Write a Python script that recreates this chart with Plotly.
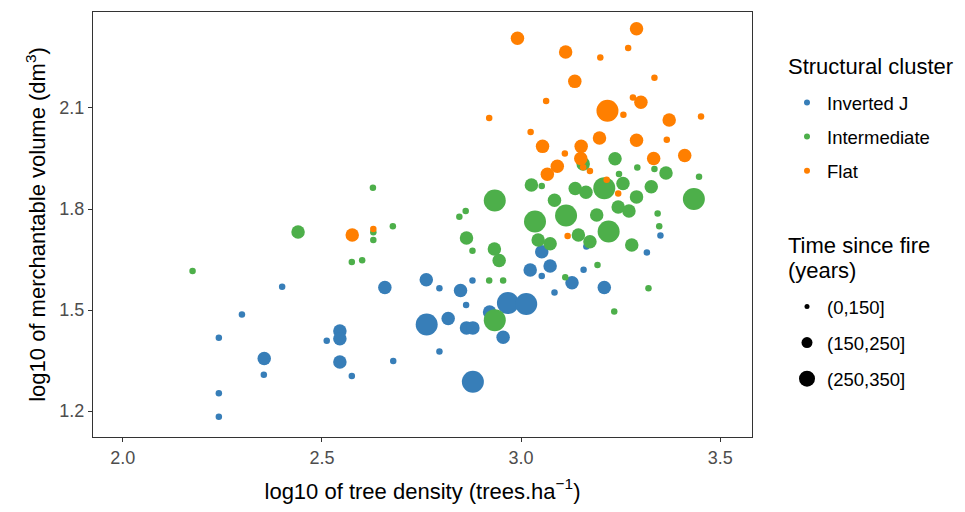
import plotly.graph_objects as go

# ---- data ----
invj_x = [2.400, 2.299, 2.241, 2.355, 2.354, 2.241, 2.241, 2.512, 2.545, 2.545,
          2.545, 2.575, 2.658, 2.679, 2.762, 2.763, 2.795, 2.795, 2.848, 2.878,
          2.862, 2.817, 2.863, 2.879, 2.921, 2.955, 2.879, 2.967, 3.013, 3.023,
          3.052, 3.073, 3.052, 3.084, 3.164, 3.350, 3.316, 3.157, 3.128, 3.209]
invj_y = [1.569, 1.487, 1.418, 1.356, 1.308, 1.253, 1.183, 1.409, 1.438, 1.415,
          1.346, 1.304, 1.567, 1.349, 1.590, 1.457, 1.565, 1.377, 1.558, 1.588,
          1.515, 1.475, 1.447, 1.447, 1.494, 1.419, 1.287, 1.521, 1.518, 1.619,
          1.673, 1.631, 1.601, 1.552, 1.689, 1.721, 1.671, 1.620, 1.581, 1.567]
invj_t = ["(0,150]", "(0,150]", "(0,150]", "(150,250]", "(0,150]", "(0,150]", "(0,150]", "(0,150]", "(150,250]", "(150,250]",
          "(150,250]", "(0,150]", "(150,250]", "(0,150]", "(150,250]", "(250,350]", "(0,150]", "(0,150]", "(150,250]", "(0,150]",
          "(0,150]", "(150,250]", "(150,250]", "(150,250]", "(150,250]", "(150,250]", "(250,350]", "(250,350]", "(250,350]", "(150,250]",
          "(150,250]", "(150,250]", "(0,150]", "(0,150]", "(0,150]", "(0,150]", "(0,150]", "(0,150]", "(150,250]", "(150,250]"]

inter_x = [2.175, 2.440, 2.628, 2.629, 2.629, 2.678, 2.575, 2.601, 2.863, 2.878,
           2.933, 2.945, 2.920, 2.955, 2.934, 2.934, 2.845, 2.861, 3.026, 3.052,
           3.084, 3.035, 3.113, 3.043, 3.073, 3.111, 3.156, 3.136, 3.163, 3.209,
           3.256, 3.236, 3.246, 3.292, 3.335, 3.364, 3.447, 3.327, 3.290, 3.434,
           3.343, 3.347, 3.190, 3.244, 3.271, 3.220, 3.278, 3.173, 3.144, 3.192,
           3.320, 3.234]
inter_y = [1.616, 1.732, 1.863, 1.731, 1.708, 1.749, 1.643, 1.648, 1.714, 1.676,
           1.681, 1.647, 1.588, 1.588, 1.470, 1.825, 1.777, 1.794, 1.871, 1.868,
           1.826, 1.763, 1.781, 1.708, 1.697, 1.597, 1.934, 1.861, 1.850, 1.862,
           1.876, 1.949, 1.904, 1.923, 1.919, 1.907, 1.896, 1.866, 1.836, 1.830,
           1.787, 1.749, 1.782, 1.806, 1.794, 1.733, 1.693, 1.703, 1.723, 1.634,
           1.565, 1.496]
inter_t = ["(0,150]", "(150,250]", "(0,150]", "(0,150]", "(0,150]", "(0,150]", "(0,150]", "(0,150]", "(150,250]", "(0,150]",
           "(150,250]", "(150,250]", "(0,150]", "(0,150]", "(250,350]", "(250,350]", "(0,150]", "(0,150]", "(150,250]", "(0,150]",
           "(150,250]", "(250,350]", "(250,350]", "(150,250]", "(150,250]", "(0,150]", "(150,250]", "(150,250]", "(150,250]", "(250,350]",
           "(150,250]", "(150,250]", "(0,150]", "(0,150]", "(0,150]", "(150,250]", "(0,150]", "(150,250]", "(150,250]", "(250,350]",
           "(0,150]", "(0,150]", "(150,250]", "(150,250]", "(150,250]", "(250,350]", "(150,250]", "(150,250]", "(150,250]", "(0,150]",
           "(0,150]", "(0,150]"]

flat_x = [2.576, 2.629, 2.991, 2.920, 3.024, 3.112, 3.199, 3.269, 3.290, 3.135,
          3.335, 3.063, 3.217, 3.281, 3.301, 3.257, 3.372, 3.452, 3.197, 3.290,
          3.366, 3.054, 3.151, 3.110, 3.150, 3.333, 3.411, 3.156, 3.173, 3.091,
          3.066, 3.215, 3.244, 3.117]
flat_y = [1.723, 1.741, 2.307, 2.070, 2.029, 2.266, 2.250, 2.278, 2.335, 2.179,
          2.190, 2.121, 2.092, 2.131, 2.117, 2.080, 2.064, 2.075, 2.011, 2.004,
          2.006, 1.986, 1.986, 1.965, 1.950, 1.950, 1.959, 1.924, 1.913, 1.927,
          1.903, 1.887, 1.846, 1.720]
flat_t = ["(150,250]", "(0,150]", "(150,250]", "(0,150]", "(0,150]", "(150,250]", "(0,150]", "(0,150]", "(150,250]", "(150,250]",
          "(0,150]", "(0,150]", "(250,350]", "(0,150]", "(150,250]", "(0,150]", "(150,250]", "(0,150]", "(150,250]", "(150,250]",
          "(0,150]", "(150,250]", "(150,250]", "(0,150]", "(150,250]", "(150,250]", "(150,250]", "(0,150]", "(0,150]", "(150,250]",
          "(150,250]", "(0,150]", "(0,150]", "(0,150]"]

clusters = ["Inverted J", "Intermediate", "Flat"]
tsf_classes = ["(0,150]", "(150,250]", "(250,350]"]
x_ticks = [2.0, 2.5, 3.0, 3.5]
y_ticks = [1.2, 1.5, 1.8, 2.1]

# ---- styles ----
colors = {"Inverted J": "#377EB8", "Intermediate": "#4DAF4A", "Flat": "#FF7F00"}
sizes = {"(0,150]": 6.5, "(150,250]": 13.5, "(250,350]": 22}
legend_sizes = {"(0,150]": 5, "(150,250]": 11, "(250,350]": 16}

series = {
    "Inverted J": (invj_x, invj_y, invj_t),
    "Intermediate": (inter_x, inter_y, inter_t),
    "Flat": (flat_x, flat_y, flat_t),
}

fig = go.Figure()
for c in clusters:
    xs, ys, ts = series[c]
    fig.add_trace(go.Scatter(
        x=xs, y=ys, mode="markers", showlegend=False,
        marker=dict(color=colors[c], size=[sizes[t] for t in ts], line=dict(width=0), opacity=1),
        name=c, hoverinfo="x+y+name"))

# legend entries (colour)
for i, c in enumerate(clusters):
    fig.add_trace(go.Scatter(
        x=[None], y=[None], mode="markers", name=c, legend="legend",
        legendgroup="c%d" % i,
        marker=dict(color=colors[c], size=6, line=dict(width=0))))
# legend entries (size)
for i, t in enumerate(tsf_classes):
    fig.add_trace(go.Scatter(
        x=[None], y=[None], mode="markers", name=t, legend="legend2",
        legendgroup="s%d" % i,
        marker=dict(color="black", size=legend_sizes[t], line=dict(width=0))))

font_fam = "Liberation Sans, Arial, sans-serif"
title_size = 22
tick_size = 18
leg_size = 18.5

axis_common = dict(
    showgrid=False, zeroline=False, showline=True, mirror=True,
    linecolor="#333333", linewidth=1.2,
    ticks="outside", ticklen=4, tickcolor="#333333", tickwidth=1,
    tickfont=dict(family=font_fam, size=tick_size, color="#4D4D4D"),
)

def px_to_paper_x(px):
    return (px - 93) / 659.0

def px_to_paper_y(py):
    return (437 - py) / 425.0

fig.update_layout(
    width=965, height=512,
    margin=dict(l=93, r=213, t=12, b=75),
    paper_bgcolor="white", plot_bgcolor="white",
    font=dict(family=font_fam, color="black"),
    xaxis=dict(range=[1.925, 3.58], tickvals=x_ticks, ticktext=["%.1f" % v for v in x_ticks],
               title=dict(text="log10 of tree density (trees.ha<sup>\u22121</sup>)",
                          font=dict(family=font_fam, size=title_size), standoff=16),
               **axis_common),
    yaxis=dict(range=[1.123, 2.385], tickvals=y_ticks, ticktext=["%.1f" % v for v in y_ticks],
               title=dict(text="log10 of merchantable volume (dm<sup>3</sup>)",
                          font=dict(family=font_fam, size=title_size), standoff=7),
               **axis_common),
    legend=dict(
        x=px_to_paper_x(787), y=px_to_paper_y(84), xanchor="left", yanchor="top",
        font=dict(family=font_fam, size=leg_size),
        itemsizing="trace", tracegroupgap=7, bgcolor="rgba(0,0,0,0)",
    ),
    legend2=dict(
        x=px_to_paper_x(787), y=px_to_paper_y(288), xanchor="left", yanchor="top",
        font=dict(family=font_fam, size=leg_size),
        itemsizing="trace", tracegroupgap=9, bgcolor="rgba(0,0,0,0)",
    ),
    annotations=[
        dict(text="Structural cluster", x=px_to_paper_x(786), y=px_to_paper_y(66),
             xref="paper", yref="paper", xanchor="left", yanchor="middle", showarrow=False,
             font=dict(family=font_fam, size=title_size)),
        dict(text="Time since fire", x=px_to_paper_x(786), y=px_to_paper_y(246),
             xref="paper", yref="paper", xanchor="left", yanchor="middle", showarrow=False,
             font=dict(family=font_fam, size=title_size)),
        dict(text="(years)", x=px_to_paper_x(786), y=px_to_paper_y(270),
             xref="paper", yref="paper", xanchor="left", yanchor="middle", showarrow=False,
             font=dict(family=font_fam, size=title_size)),
    ],
)

fig.write_html("out.html")
